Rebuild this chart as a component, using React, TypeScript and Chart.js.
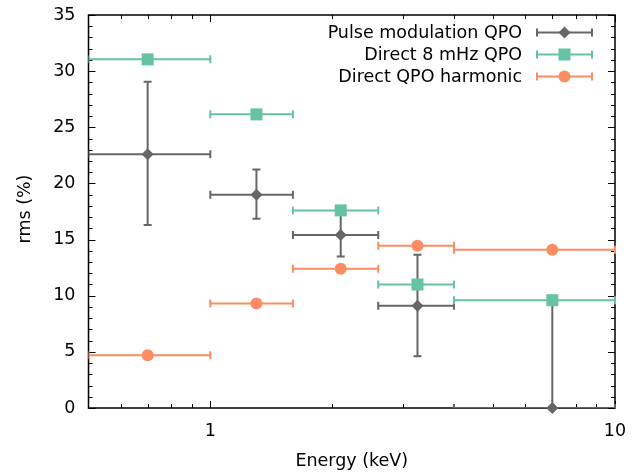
import React, { useEffect, useRef } from 'react';
import { Chart, registerables } from 'chart.js';

Chart.register(...registerables);

// Energy bins (keV): centre and edges
const energy = [0.7, 1.3, 2.1, 3.25, 7.0];
const binLo = [0.5, 1.0, 1.6, 2.6, 4.0];
const binHi = [1.0, 1.6, 2.6, 4.0, 10.0];

// Pulse modulation QPO rms (%) with asymmetric errors
const pulseRms = [22.6, 19.0, 15.4, 9.1, 0];
const pulseLo = [16.3, 16.85, 13.5, 4.6, 0];
const pulseHi = [29.05, 21.25, 17.4, 13.65, 9.4];

// Direct QPO rms (%)
const direct8Rms = [31.05, 26.15, 17.6, 11.0, 9.6];
const harmonicRms = [4.7, 9.3, 12.4, 14.45, 14.1];

// Axis ticks
const xMajorTicks = [1, 10];
const xMinorTicks = [0.6, 0.7, 0.8, 0.9, 2, 3, 4, 5, 6, 7, 8, 9];

const GRAY = '#666666';
const GREEN = '#66c2a5';
const ORANGE = '#fc8d62';
const FONT = '"DejaVu Sans", sans-serif';
const FONT_SIZE = 17.5;

type ErrorSpec = { yLo?: number[]; yHi?: number[] };

const series = [
  { label: 'Pulse modulation QPO', values: pulseRms, color: GRAY, style: 'rectRot', radius: 6, order: 3, err: { yLo: pulseLo, yHi: pulseHi } as ErrorSpec },
  { label: 'Direct 8 mHz QPO', values: direct8Rms, color: GREEN, style: 'rect', radius: 8.5, order: 1, err: {} as ErrorSpec },
  { label: 'Direct QPO harmonic', values: harmonicRms, color: ORANGE, style: 'circle', radius: 6, order: 2, err: {} as ErrorSpec },
];

function drawMarker(ctx: CanvasRenderingContext2D, style: string, x: number, y: number, r: number, color: string) {
  ctx.save();
  ctx.fillStyle = color;
  ctx.beginPath();
  if (style === 'circle') {
    ctx.arc(x, y, r, 0, Math.PI * 2);
  } else if (style === 'rect') {
    const s = r * Math.SQRT1_2;
    ctx.rect(x - s, y - s, 2 * s, 2 * s);
  } else {
    ctx.moveTo(x, y - r);
    ctx.lineTo(x + r, y);
    ctx.lineTo(x, y + r);
    ctx.lineTo(x - r, y);
    ctx.closePath();
  }
  ctx.fill();
  ctx.restore();
}

const CAP = 4;

const errorBarPlugin = {
  id: 'errorBars',
  beforeDatasetDraw(chart: any, args: any) {
    const s = series[args.index];
    const { ctx, chartArea: a } = chart;
    const xs = chart.scales.x;
    const ys = chart.scales.y;
    ctx.save();
    ctx.beginPath();
    ctx.rect(a.left, a.top - 1, a.right - a.left + 1, a.bottom - a.top + 1);
    ctx.clip();
    ctx.strokeStyle = s.color;
    ctx.lineWidth = 2;
    s.values.forEach((v, i) => {
      const y = ys.getPixelForValue(v);
      const x = xs.getPixelForValue(energy[i]);
      const x1 = xs.getPixelForValue(binLo[i]);
      const x2 = xs.getPixelForValue(binHi[i]);
      ctx.beginPath();
      ctx.moveTo(x1, y);
      ctx.lineTo(x2, y);
      ctx.moveTo(x1, y - CAP);
      ctx.lineTo(x1, y + CAP);
      ctx.moveTo(x2, y - CAP);
      ctx.lineTo(x2, y + CAP);
      if (s.err.yLo && s.err.yHi) {
        const y1 = ys.getPixelForValue(s.err.yLo[i]);
        const y2 = ys.getPixelForValue(s.err.yHi[i]);
        ctx.moveTo(x, y1);
        ctx.lineTo(x, y2);
        ctx.moveTo(x - CAP, y1);
        ctx.lineTo(x + CAP, y1);
        ctx.moveTo(x - CAP, y2);
        ctx.lineTo(x + CAP, y2);
      }
      ctx.stroke();
    });
    ctx.restore();
  },
};

const framePlugin = {
  id: 'frame',
  beforeDatasetsDraw(chart: any) {
    const { ctx, chartArea: a } = chart;
    const xs = chart.scales.x;
    const ys = chart.scales.y;
    ctx.save();
    ctx.strokeStyle = '#000';
    ctx.lineWidth = 1;
    const tick = (x1: number, y1: number, x2: number, y2: number) => {
      ctx.beginPath();
      ctx.moveTo(x1, y1);
      ctx.lineTo(x2, y2);
      ctx.stroke();
    };
    xMajorTicks.forEach((v) => {
      const x = Math.round(xs.getPixelForValue(v)) + 0.5;
      tick(x, a.bottom, x, a.bottom - 7);
      tick(x, a.top, x, a.top + 7);
    });
    xMinorTicks.forEach((v) => {
      const x = Math.round(xs.getPixelForValue(v)) + 0.5;
      tick(x, a.bottom, x, a.bottom - 4);
      tick(x, a.top, x, a.top + 4);
    });
    for (let v = ys.min; v <= ys.max; v += 1) {
      const y = Math.round(ys.getPixelForValue(v)) + 0.5;
      const len = v % 5 === 0 ? 7 : 4;
      tick(a.left, y, a.left + len, y);
      tick(a.right, y, a.right - len, y);
    }
    ctx.lineWidth = 1.5;
    ctx.strokeRect(a.left, a.top, a.right - a.left, a.bottom - a.top);
    ctx.restore();
  },
  afterDraw(chart: any) {
    const { ctx, chartArea: a } = chart;
    ctx.save();
    ctx.fillStyle = '#000';
    ctx.font = `${FONT_SIZE}px ${FONT}`;
    ctx.textAlign = 'center';
    ctx.textBaseline = 'middle';
    ctx.fillText('Energy (keV)', (a.left + a.right) / 2, 461);
    ctx.translate(25, 209);
    ctx.rotate(-Math.PI / 2);
    ctx.fillText('rms (%)', 0, 0);
    ctx.restore();

    // legend: text right-aligned, error-bar symbol to its right
    ctx.save();
    ctx.font = `${FONT_SIZE}px ${FONT}`;
    ctx.textAlign = 'right';
    ctx.textBaseline = 'middle';
    series.forEach((s, i) => {
      const y = 32.5 + i * 22;
      ctx.fillStyle = '#000';
      ctx.fillText(s.label, 522, y + 1);
      ctx.strokeStyle = s.color;
      ctx.lineWidth = 2;
      ctx.beginPath();
      ctx.moveTo(537, y);
      ctx.lineTo(592, y);
      ctx.moveTo(537, y - CAP);
      ctx.lineTo(537, y + CAP);
      ctx.moveTo(592, y - CAP);
      ctx.lineTo(592, y + CAP);
      ctx.stroke();
      drawMarker(ctx, s.style, 564.5, y, s.radius, s.color);
    });
    ctx.restore();
  },
};

export default function App() {
  const ref = useRef<HTMLCanvasElement | null>(null);

  useEffect(() => {
    if (!ref.current) return;
    const chart = new Chart(ref.current, {
      type: 'scatter',
      data: {
        datasets: series.map((s) => ({
          label: s.label,
          data: s.values.map((v, i) => ({ x: energy[i], y: v })),
          pointStyle: s.style as any,
          pointRadius: s.radius,
          pointHoverRadius: s.radius,
          backgroundColor: s.color,
          borderColor: s.color,
          borderWidth: 0,
          showLine: false,
          clip: false as any,
          order: s.order,
        })),
      },
      options: {
        animation: false,
        responsive: false,
        devicePixelRatio: 1,
        layout: { padding: { top: 15, right: 24, left: 0, bottom: 0 } },
        plugins: { legend: { display: false }, tooltip: { enabled: false } },
        scales: {
          x: {
            type: 'logarithmic',
            min: 0.5,
            max: 10,
            grid: { display: false, drawTicks: false },
            border: { display: false },
            afterBuildTicks: (scale: any) => {
              scale.ticks = xMajorTicks.map((v) => ({ value: v, major: true }));
            },
            afterFit: (scale: any) => {
              scale.height = 65;
              scale.paddingLeft = 0;
              scale.paddingRight = 0;
            },
            ticks: {
              padding: 13,
              color: '#000',
              font: { family: FONT, size: FONT_SIZE },
              maxRotation: 0,
              autoSkip: false,
              callback: (v: any) => String(v),
            },
          },
          y: {
            min: 0,
            max: 35,
            grid: { display: false, drawTicks: false },
            border: { display: false },
            afterFit: (scale: any) => {
              scale.width = 88.5;
              scale.paddingTop = 0;
              scale.paddingBottom = 0;
            },
            ticks: {
              stepSize: 5,
              padding: 13,
              color: '#000',
              font: { family: FONT, size: FONT_SIZE },
            },
          },
        },
      },
      plugins: [errorBarPlugin, framePlugin],
    });
    return () => chart.destroy();
  }, []);

  return (
    <div style={{ position: 'fixed', left: 0, top: 0, width: 639, height: 473, background: '#fff' }}>
      <canvas ref={ref} width={639} height={473} style={{ display: 'block' }} />
    </div>
  );
}
